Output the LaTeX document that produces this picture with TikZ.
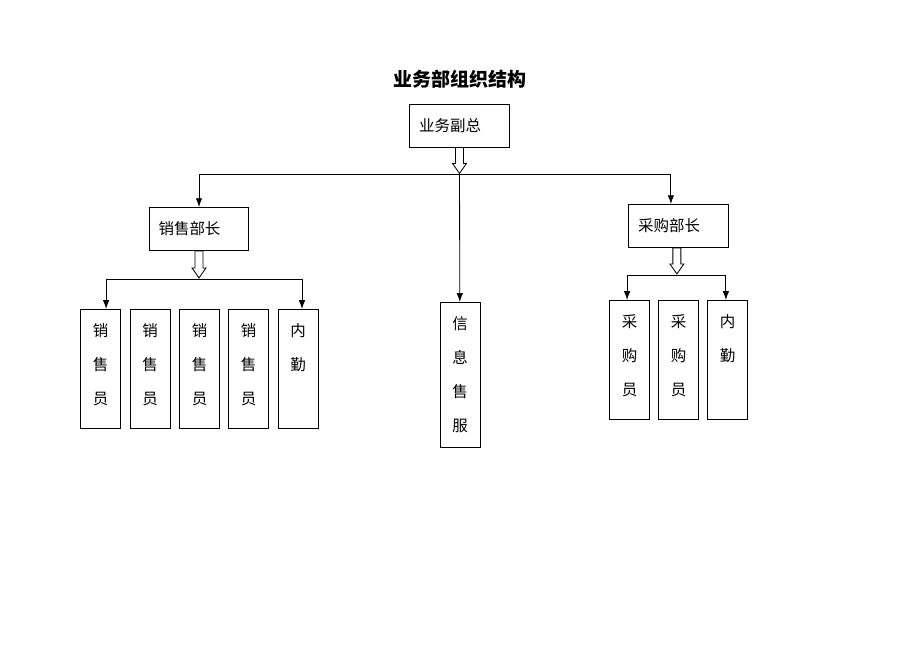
\documentclass[tikz,border=0pt]{standalone}
\usepackage{fontspec}
\setmainfont{Noto Sans CJK SC}
\usetikzlibrary{arrows.meta}

\begin{document}
\begin{tikzpicture}[
    x=0.025cm, y=-0.025cm,
    line width=0.6pt,
    box/.style={draw, inner xsep=0.23cm, inner ysep=0pt, text width=2.02cm, minimum height=1.075cm, align=left, font=\fontsize{11}{13}\selectfont},
    col/.style={draw, anchor=north, inner sep=0pt, minimum width=1cm, text width=1cm, align=center, text height=0.68cm, text depth=#1, font=\fontsize{11}{24.2}\selectfont},
    arrow/.style={-{Latex[length=2.2mm, width=1.6mm]}}
]
\useasboundingbox (0,0) rectangle (920,651);

% Title
\node[font=\fontsize{13.5}{16}\selectfont\bfseries] (title) at (460,79) {业务部组织结构};

% Heads
\node[box] (vp) at (459.5,125.5) {业务副总};
\node[box] (sales) at (199,229) {销售部长};
\node[box] (purch) at (678.5,226) {采购部长};

% Staff columns
\node[col=2.3cm] (s1) at (100.5,309) {销\\售\\员};
\node[col=2.3cm] (s2) at (150,309) {销\\售\\员};
\node[col=2.3cm] (s3) at (199.5,309) {销\\售\\员};
\node[col=2.3cm] (s4) at (248.5,309) {销\\售\\员};
\node[col=2.3cm] (n1) at (298,309) {内\\勤};
\node[col=2.945cm] (info) at (460,302) {信\\息\\售\\服};
\node[col=2.3cm] (p1) at (629.5,300) {采\\购\\员};
\node[col=2.3cm] (p2) at (678.5,300) {采\\购\\员};
\node[col=2.3cm] (n2) at (727.5,300) {内\\勤};

% Branch points
\coordinate (hub) at (459.5,174);
\coordinate (salesHub) at (199,279);
\coordinate (purchHub) at (677,275);

% Hollow arrows
\draw (vp.south) ++(-4,0) -- ++(0,16) -- ++(-3,0) -- ++(7,10) -- ++(7,-10) -- ++(-3,0) -- ++(0,-16) -- cycle;
\draw (sales.south) ++(-4,0) -- ++(0,17) -- ++(-3,0) -- ++(7,10) -- ++(7,-10) -- ++(-3,0) -- ++(0,-17) -- cycle;
\draw ([xshift=-0.04cm]purch.south) ++(-4,0) -- ++(0,16) -- ++(-3,0) -- ++(7,10) -- ++(7,-10) -- ++(-3,0) -- ++(0,-16) -- cycle;

% Connectors
\draw[arrow] (hub) -| (sales);
\draw[arrow] (hub) -| ([xshift=-0.19cm]purch.north);
\draw[arrow] (hub) -- (info);
\draw[arrow] (salesHub) -| ([xshift=0.14cm]s1.north);
\draw[arrow] (salesHub) -| ([xshift=0.1cm]n1.north);
\draw[arrow] (purchHub) -| ([xshift=-0.06cm]p1.north);
\draw[arrow] (purchHub) -| ([xshift=-0.04cm]n2.north);

\end{tikzpicture}
\end{document}
